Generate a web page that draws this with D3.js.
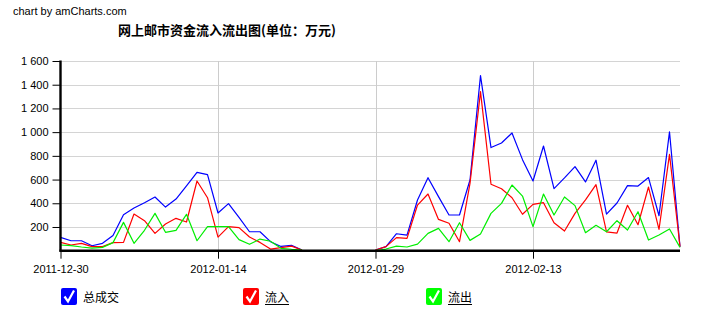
<!DOCTYPE html>
<html><head><meta charset="utf-8">
<script src="https://cdn.jsdelivr.net/npm/d3@7"></script>
<style>
html,body{margin:0;padding:0;background:#fff;}
svg{display:block;}
text{font-family:"Liberation Sans",Arial,sans-serif;}
.cjk{font-family:"Noto Sans CJK SC","Noto Sans",sans-serif;}
</style></head>
<body>
<svg id="chart" width="719" height="325"></svg>
<script>
const dates = [
"2011-12-30","2011-12-31","2012-01-01","2012-01-02","2012-01-03","2012-01-04","2012-01-05","2012-01-06",
"2012-01-07","2012-01-08","2012-01-09","2012-01-10","2012-01-11","2012-01-12","2012-01-13","2012-01-14",
"2012-01-15","2012-01-16","2012-01-17","2012-01-18","2012-01-19","2012-01-20","2012-01-21","2012-01-22",
"2012-01-23","2012-01-24","2012-01-25","2012-01-26","2012-01-27","2012-01-28",
"2012-01-29","2012-01-30","2012-01-31","2012-02-01","2012-02-02","2012-02-03","2012-02-04","2012-02-05",
"2012-02-06","2012-02-07","2012-02-08","2012-02-09","2012-02-10","2012-02-11","2012-02-12","2012-02-13",
"2012-02-14","2012-02-15","2012-02-16","2012-02-17","2012-02-18","2012-02-19","2012-02-20","2012-02-21",
"2012-02-22","2012-02-23","2012-02-24","2012-02-25","2012-02-26","2012-02-27"];
const N = null;
const totalValues = [112,84,84,42,62,129,304,360,405,453,368,436,546,661,641,318,397,281,160,160,76,36,45,6,
  N,N,N,N,N,N,
  6,34,143,132,428,616,456,301,301,596,1477,870,908,993,768,588,883,524,614,709,580,763,309,402,549,545,617,295,1002,32];
const inflowValues = [70,48,62,34,34,68,70,309,253,146,225,273,242,588,447,115,203,195,115,70,14,26,39,6,
  N,N,N,N,N,N,
  6,34,110,104,385,478,264,231,76,568,1342,560,523,447,307,391,405,236,166,315,428,557,158,149,383,219,537,180,813,34];
const outflowValues = [48,42,31,22,28,68,239,62,172,315,155,172,307,84,203,203,203,93,54,98,80,20,12,6,
  N,N,N,N,N,N,
  0,14,39,31,56,146,188,76,236,87,141,315,399,554,461,203,478,301,453,380,152,214,160,253,174,329,90,132,183,28];
const seriesNames = ["总成交","流入","流出"];
const seriesColors = ["#0000ff","#ff0000","#00ee00"];
const legendColors = ["#0000ff","#ff0000","#00ff00"];
const xTickLabels = ["2011-12-30","2012-01-14","2012-01-29","2012-02-13"];
const yTickValues = [200,400,600,800,1000,1200,1400,1600];
const titleText = "网上邮市资金流入流出图(单位：万元)";
const creditText = "chart by amCharts.com";

const svg = d3.select("#chart");
const parse = d3.utcParse("%Y-%m-%d");
const plotLeft = 60.5, plotRight = 680, plotTop = 61, plotBottom = 250.7;

const x = d3.scaleUtc().domain([parse(dates[0]), parse(dates[dates.length-1])]).range([plotLeft, plotRight]);
const y = d3.scaleLinear().domain([0,1600]).range([plotBottom, plotTop]);
const fmt = d3.formatLocale({decimal:".", thousands:" ", grouping:[3], currency:["",""]}).format(",");

svg.append("text").attr("x",13).attr("y",15).attr("font-size",11).attr("fill","#000").text(creditText);
svg.append("text").attr("class","cjk").attr("x",118).attr("y",35).attr("font-size",13)
  .attr("font-weight","bold").attr("fill","#000").text(titleText);

// grid
const grid = svg.append("g");
grid.selectAll("line.h").data(yTickValues).join("line").attr("class","h")
  .attr("x1",plotLeft).attr("x2",plotRight).attr("y1",d=>Math.round(y(d))+0.5).attr("y2",d=>Math.round(y(d))+0.5)
  .attr("stroke","#d4d4d4").attr("stroke-width",1);
grid.selectAll("line.v").data(xTickLabels.slice(1)).join("line").attr("class","v")
  .attr("x1",d=>Math.round(x(parse(d)))+0.5).attr("x2",d=>Math.round(x(parse(d)))+0.5)
  .attr("y1",plotTop).attr("y2",plotBottom)
  .attr("stroke","#cccccc").attr("stroke-width",1);

// lines
const valueSets = [totalValues, inflowValues, outflowValues];
const line = d3.line().defined(d=>d.v!==null).x(d=>x(d.t)).y(d=>y(d.v));
valueSets.forEach((vals,i)=>{
  const data = dates.map((d,j)=>({t:parse(d), v:vals[j]}));
  svg.append("path").datum(data).attr("d",line).attr("fill","none")
    .attr("stroke",seriesColors[i]).attr("stroke-width",1.2).attr("stroke-linejoin","round");
});

// y axis
const yAxis = svg.append("g").attr("transform",`translate(${plotLeft},0)`)
  .call(d3.axisLeft(y).tickValues(yTickValues).tickFormat(fmt).tickSize(8).tickPadding(4));
yAxis.select(".domain").remove();
yAxis.selectAll("text").attr("font-size",11).attr("fill","#000").attr("font-family","Liberation Sans, Arial, sans-serif");
yAxis.selectAll("line").attr("stroke","#000");

// x axis
const xAxis = svg.append("g").attr("transform",`translate(0,${plotBottom})`)
  .call(d3.axisBottom(x).tickValues(xTickLabels.map(parse)).tickFormat(d3.utcFormat("%Y-%m-%d")).tickSize(8).tickPadding(7));
xAxis.select(".domain").remove();
xAxis.selectAll("text").attr("font-size",11).attr("fill","#000").attr("font-family","Liberation Sans, Arial, sans-serif");
xAxis.selectAll("line").attr("stroke","#000");

// thick axis lines
svg.append("line").attr("x1",plotLeft).attr("x2",plotLeft).attr("y1",plotTop-0.5).attr("y2",plotBottom+1)
  .attr("stroke","#000").attr("stroke-width",2.4);
svg.append("line").attr("x1",plotLeft-1).attr("x2",plotRight).attr("y1",plotBottom).attr("y2",plotBottom)
  .attr("stroke","#000").attr("stroke-width",2.4);

// legend
const legendX = [61, 243, 426];
const lg = svg.append("g");
seriesNames.forEach((name,i)=>{
  const g = lg.append("g").attr("transform",`translate(${legendX[i]},288)`);
  g.append("rect").attr("width",16).attr("height",17).attr("rx",2).attr("fill",legendColors[i]);
  g.append("path").attr("d","M3.5,8.5 L7,13.5 L13,2.5").attr("fill","none").attr("stroke","#fff").attr("stroke-width",2.2);
  const t = g.append("text").attr("class","cjk").attr("x",22).attr("y",14).attr("font-size",12).attr("fill","#000").text(name);
  if(i>0){
    const w = t.node().getComputedTextLength();
    g.append("line").attr("x1",22).attr("x2",22+w).attr("y1",16.5).attr("y2",16.5).attr("stroke","#000").attr("stroke-width",1);
  }
});
</script>
</body></html>
